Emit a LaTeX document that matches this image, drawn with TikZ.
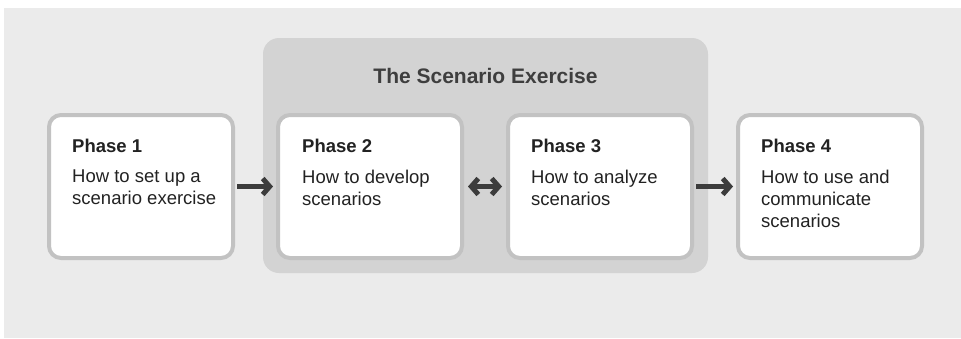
\documentclass[tikz,border=0pt]{standalone}
\usepackage{fontspec}
\setmainfont{Liberation Sans}
\usetikzlibrary{arrows.meta}
\definecolor{bgc}{HTML}{EBEBEB}
\definecolor{contc}{HTML}{D3D3D3}
\definecolor{borderc}{HTML}{C2C2C2}
\definecolor{arrowc}{HTML}{3C3C3C}
\definecolor{textc}{HTML}{222222}
\definecolor{titlec}{HTML}{3E3E3E}
\tikzset{
  phasebox/.style={draw=borderc, line width=4pt, fill=white, rounded corners=12pt,
    minimum width=184pt, minimum height=143pt, inner sep=0pt},
  headtext/.style={font=\fontsize{18.5}{22}\selectfont\bfseries, text=textc, inner sep=0pt, anchor=base west},
  bodytext/.style={font=\fontsize{18.5}{22}\selectfont, text=textc, inner sep=0pt, align=left, anchor=north west},
  titletext/.style={font=\fontsize{21}{24}\selectfont\bfseries, text=titlec, inner sep=0pt, anchor=base},
  flowarrow/.style={draw=arrowc, line width=5pt, -{Straight Barb[length=7pt,width=16pt]}},
  dualarrow/.style={draw=arrowc, line width=5pt, {Straight Barb[length=7pt,width=16pt]}-{Straight Barb[length=7pt,width=16pt]}}
}
\begin{document}
\begin{tikzpicture}[x=1pt,y=-1pt]
\useasboundingbox (0,0) rectangle (961,338);
\fill[bgc] (4,8) rectangle (961,338);
\fill[contc, rounded corners=16pt] (263,38) rectangle (708,273);
\node[titletext] (title) at (485.5,83) {The Scenario Exercise};
\node[phasebox] (p1) at (141,186.5) {};
\node[phasebox] (p2) at (370,186.5) {};
\node[phasebox] (p3) at (600,186.5) {};
\node[phasebox] (p4) at (830,186.5) {};
\node[headtext] (h1) at (72,152) {Phase 1};
\node[bodytext] (b1) at (72,169.8) {How to set up a\\scenario exercise};
\node[headtext] (h2) at (302,152) {Phase 2};
\node[bodytext] (b2) at (302,169.8) {How to develop\\scenarios};
\node[headtext] (h3) at (531,152) {Phase 3};
\node[bodytext] (b3) at (531,169.8) {How to analyze\\scenarios};
\node[headtext] (h4) at (761,152) {Phase 4};
\node[bodytext] (b4) at (761,169.8) {How to use and\\communicate\\scenarios};
\draw[flowarrow] ([xshift=2pt]p1.east) -- ([xshift=-3pt]p2.west);
\draw[dualarrow] ([xshift=4pt]p2.east) -- ([xshift=-4pt]p3.west);
\draw[flowarrow] ([xshift=2pt]p3.east) -- ([xshift=-3pt]p4.west);
\end{tikzpicture}
\end{document}
